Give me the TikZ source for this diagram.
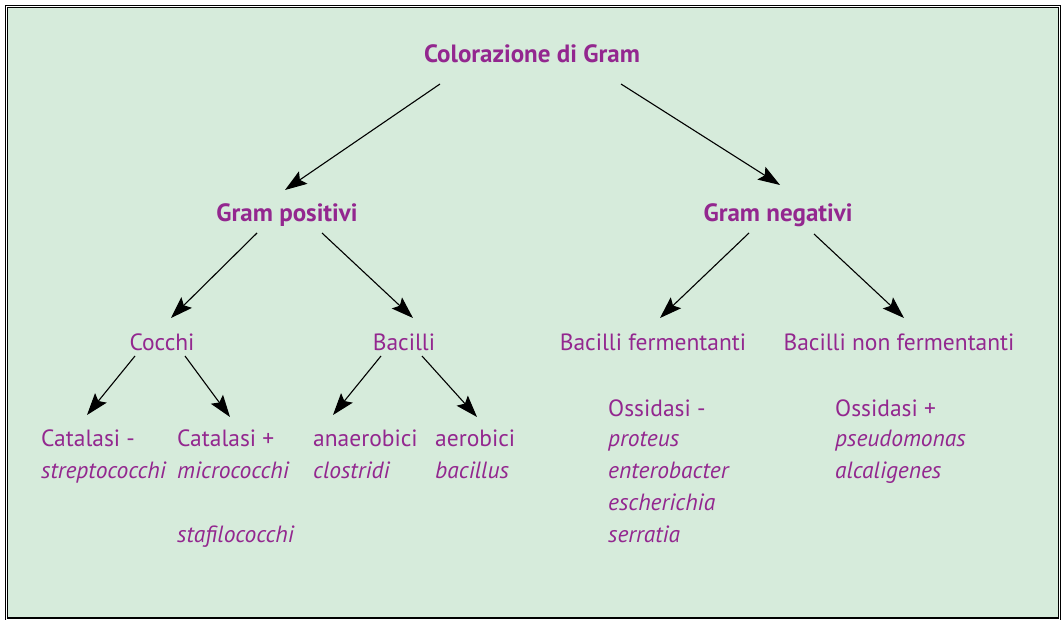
\documentclass[tikz,border=0pt]{standalone}
\usepackage{fontspec}
\setmainfont{PT Sans}
\usepackage{tikz}
\usetikzlibrary{positioning,arrows.meta}

\definecolor{gbg}{HTML}{D6EBDB}
\definecolor{gpurple}{HTML}{93278F}

\tikzset{
  head/.style={font=\bfseries\fontsize{25}{30}\selectfont, text=gpurple, inner sep=0pt},
  group/.style={font=\fontsize{23.5}{32}\selectfont, text=gpurple, inner sep=0pt},
  list/.style={group, align=left, anchor=north west},
  branch/.style={-{Stealth[length=22pt,width=15pt,inset=4pt]}, line width=1.1pt},
}

\begin{document}
\begin{tikzpicture}[x=1pt,y=-1pt]

  \useasboundingbox (0,0) rectangle (1063,620);
  \fill[gbg] (6.5,6.5) rectangle (1059.5,619);
  \draw[line width=1.3pt, double=white, double distance=1pt] (6.5,6.5) rectangle (1059.5,619);

  \node[head] (gram) at (532,54) {Colorazione di Gram};
  \node[head] (gpos) at (287,215) {Gram positivi};
  \node[head] (gneg) at (778,215) {Gram negativi};

  \node[group] (cocchi) at (162,342) {Cocchi};
  \node[group] (bac) at (404,342) {Bacilli};
  \node[group] (bferm) at (653,342) {Bacilli fermentanti};
  \node[group] (bnon) at (899,342) {Bacilli non fermentanti};

  \node[list] (catneg) at (41,430) {Catalasi -\\\textit{streptococchi}};
  \node[list] (catpos) at (177,430) {Catalasi +\\\textit{micrococchi}\\\\\textit{stafilococchi}};
  \node[list] (anaer) at (313,430) {anaerobici\\\textit{clostridi}};
  \node[list] (aer) at (435,430) {aerobici\\\textit{bacillus}};
  \node[list] (ossneg) at (608,400) {Ossidasi -\\[-2pt]\textit{proteus}\\\textit{enterobacter}\\\textit{escherichia}\\\textit{serratia}};
  \node[list] (osspos) at (835,400) {Ossidasi +\\[-2pt]\textit{pseudomonas}\\\textit{alcaligenes}};

  \path[branch] ([shift={(-92,30)}]gram.center) edge ([shift={(-2,-25)}]gpos.center);
  \path[branch] ([shift={(89,30)}]gram.center) edge ([shift={(2,-30)}]gneg.center);
  \path[branch] ([shift={(-30,18)}]gpos.center) edge ([shift={(-116,103)}]gpos.center);
  \path[branch] ([shift={(35,18)}]gpos.center) edge ([shift={(126,103)}]gpos.center);
  \path[branch] ([shift={(-29,18)}]gneg.center) edge ([shift={(-118,103)}]gneg.center);
  \path[branch] ([shift={(36,19)}]gneg.center) edge ([shift={(126,103)}]gneg.center);
  \path[branch] ([shift={(-27,14)}]cocchi.center) edge ([shift={(-75,73)}]cocchi.center);
  \path[branch] ([shift={(23,14)}]cocchi.center) edge ([shift={(68,75)}]cocchi.center);
  \path[branch] ([shift={(-23,14)}]bac.center) edge ([shift={(-71,73)}]bac.center);
  \path[branch] ([shift={(18,14)}]bac.center) edge ([shift={(73,75)}]bac.center);

\end{tikzpicture}
\end{document}
